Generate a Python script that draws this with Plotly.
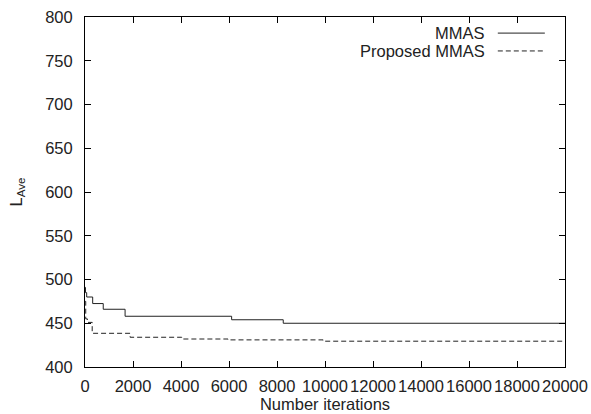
import plotly.graph_objects as go

mmas_x = [0, 20, 70, 320, 760, 1670, 6110, 8260, 20000]
mmas_y = [491, 485, 480, 472.5, 466, 458, 454, 450, 450]

prop_x = [0, 30, 100, 300, 1880, 4030, 5960, 9920, 20000]
prop_y = [475, 455, 451, 438.5, 434, 432, 431, 429.5, 429.5]

x_ticks = list(range(0, 20001, 2000))
y_ticks = list(range(400, 801, 50))

FONT = "Liberation Sans, Arial, sans-serif"
FS = 16.5
fig = go.Figure()
fig.add_trace(go.Scatter(x=mmas_x, y=mmas_y, mode="lines", line_shape="hv",
                         line=dict(color="#222222", width=1), name="MMAS", showlegend=False))
fig.add_trace(go.Scatter(x=prop_x, y=prop_y, mode="lines", line_shape="hv",
                         line=dict(color="#222222", width=1, dash="5px,3px"),
                         name="Proposed MMAS", showlegend=False))

axis_common = dict(showline=True, linecolor="black", linewidth=1, mirror="ticks",
                   ticks="inside", ticklen=6, tickcolor="black", showgrid=False,
                   zeroline=False, automargin=False,
                   tickfont=dict(family=FONT, size=FS, color="#222"))
fig.update_xaxes(range=[0, 20000], tickvals=x_ticks, ticktext=[str(v) for v in x_ticks],
                 ticklabelstandoff=4,
                 title=dict(text="Number iterations", font=dict(family=FONT, size=FS, color="#222"),
                            standoff=4), **axis_common)
fig.update_yaxes(range=[400, 800], tickvals=y_ticks, ticklabelstandoff=8,
                 title=dict(text="L<sub>Ave</sub>", font=dict(family=FONT, size=FS, color="#222"),
                            standoff=18), **axis_common)

# gnuplot-style key (text right, sample on right)
key = [("MMAS", "solid", 0.954), ("Proposed MMAS", "5px,3px", 0.903)]
for name, dash, yp in key:
    fig.add_annotation(xref="paper", yref="paper", x=0.837, y=yp, xanchor="right", yanchor="middle",
                       text=name, showarrow=False, font=dict(family=FONT, size=FS, color="#222"))
    fig.add_shape(type="line", xref="paper", yref="paper", x0=0.86, x1=0.958, y0=yp, y1=yp,
                  line=dict(color="#222222", width=1, dash=dash))

fig.update_layout(width=591, height=414, margin=dict(l=85, r=26, t=17, b=47),
                  plot_bgcolor="white", paper_bgcolor="white",
                  font=dict(family=FONT, color="#222"))
fig.write_html("out.html", config={"displayModeBar": False},
               post_script="document.body.style.margin='0';")
